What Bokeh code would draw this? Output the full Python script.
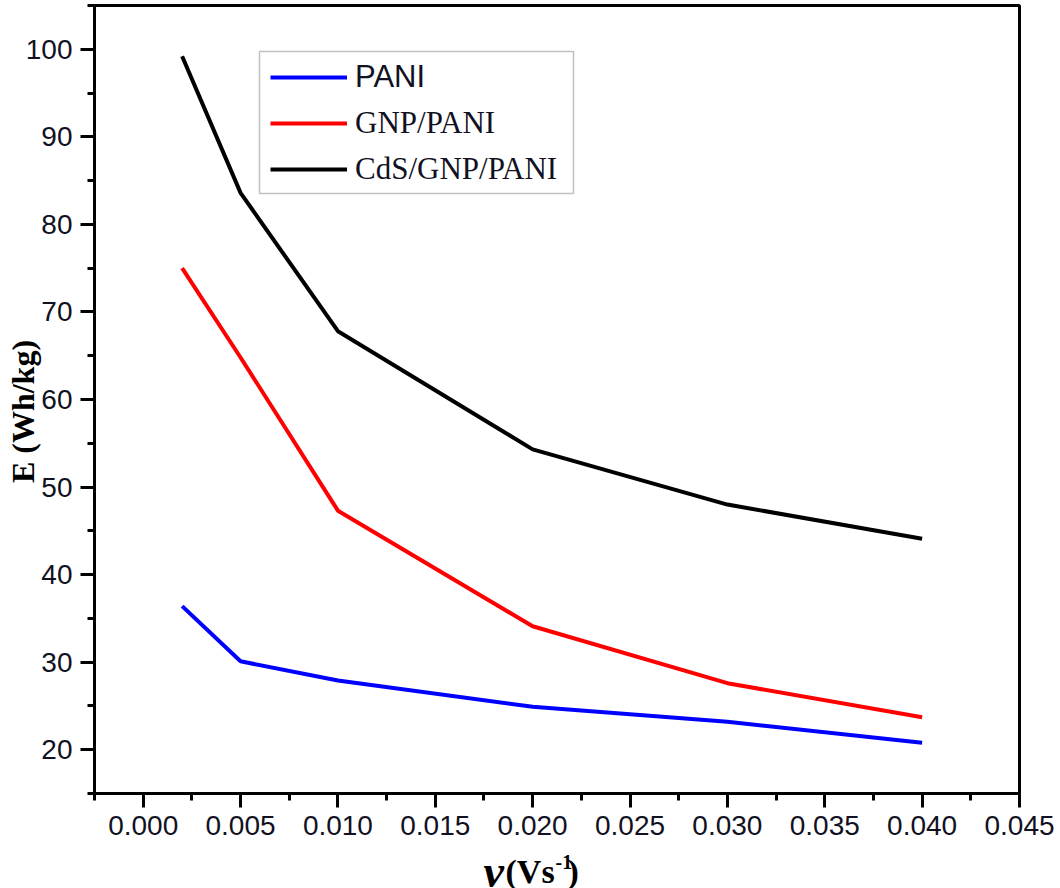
from bokeh.plotting import figure
from bokeh.layouts import column
from bokeh.models import (Range1d, FixedTicker, Legend, LegendItem, PrintfTickFormatter,
                          BoxAnnotation, ColumnDataSource)
from bokeh.core.properties import value
from bokeh.embed import file_html
from bokeh.resources import INLINE

# ---- data ----
scan_rate = [0.002, 0.005, 0.010, 0.020, 0.030, 0.040]
e_pani = [36.4, 30.1, 27.9, 24.9, 23.2, 20.8]
e_gnp_pani = [75.0, 64.8, 47.3, 34.1, 27.6, 23.7]
e_cds_gnp_pani = [99.2, 83.6, 67.8, 54.3, 48.0, 44.1]
series_names = ["PANI", "GNP/PANI", "CdS/GNP/PANI"]
series_colors = ["#0000ff", "#ff0000", "#000000"]

x_major = [0.000, 0.005, 0.010, 0.015, 0.020, 0.025, 0.030, 0.035, 0.040, 0.045]
x_minor = [-0.0025, 0.0025, 0.0075, 0.0125, 0.0175, 0.0225, 0.0275, 0.0325, 0.0375, 0.0425]
y_major = [20, 30, 40, 50, 60, 70, 80, 90, 100]
y_minor = [15, 25, 35, 45, 55, 65, 75, 85, 95, 105]

y_title = "E (Wh/kg)"
x_title_parts = ["ν", "(Vs", "-1", ")"]

# ---- layout ----
X0, X1 = -0.0025, 0.045
Y0, Y1 = 15, 105
W, H = 1060, 888
MAIN_H = 848
FL, FR, FT, FB = 94, 1019, 5, 793


def sx(px):
    return X0 + (px - FL) * (X1 - X0) / (FR - FL)


def sy(py):
    return Y0 + (FB - py) * (Y1 - Y0) / (FB - FT)


p = figure(width=W, height=MAIN_H, output_backend="svg", toolbar_location=None,
           x_range=Range1d(X0, X1), y_range=Range1d(Y0, Y1),
           min_border_left=FL, min_border_right=W - FR,
           min_border_top=FT, min_border_bottom=MAIN_H - FB)
p.background_fill_color = "white"
p.border_fill_color = "white"
p.outline_line_color = "black"
p.outline_line_width = 3
p.xgrid.visible = False
p.ygrid.visible = False

p.xaxis.ticker = FixedTicker(ticks=x_major, minor_ticks=x_minor)
p.yaxis.ticker = FixedTicker(ticks=y_major, minor_ticks=y_minor)
p.xaxis.formatter = PrintfTickFormatter(format="%.3f")
for ax in (p.xaxis[0], p.yaxis[0]):
    ax.axis_line_width = 3
    ax.axis_line_color = "black"
    ax.major_tick_line_width = 3
    ax.minor_tick_line_width = 3
    ax.major_tick_out = 14
    ax.major_tick_in = 0
    ax.minor_tick_out = 7
    ax.minor_tick_in = 0
    ax.major_label_text_font = "Liberation Sans"
    ax.major_label_text_font_size = "28px"
    ax.major_label_text_color = "#111122"
    ax.major_label_standoff = 8

# trailing no-break spaces nudge the rotated title a little lower, as in the reference
p.yaxis.axis_label = y_title + "\u00a0\u00a0\u00a0"
p.yaxis.axis_label_text_font = "Liberation Serif"
p.yaxis.axis_label_text_font_style = "bold"
p.yaxis.axis_label_text_font_size = "32px"
p.yaxis.axis_label_text_color = "black"
p.yaxis.axis_label_standoff = -18

renderers = []
for ys, c in zip([e_pani, e_gnp_pani, e_cds_gnp_pani], series_colors):
    r = p.line(scan_rate, ys, line_color=c, line_width=4)
    renderers.append(r)

# legend frame
p.add_layout(BoxAnnotation(left=sx(259), right=sx(573), top=sy(51), bottom=sy(193),
                           fill_color="white", fill_alpha=1.0,
                           line_color="#333333", line_width=1.5))


def make_legend(items, loc, font):
    lg = Legend(items=items, location=loc)
    lg.label_text_font = font
    lg.label_text_font_size = "31px"
    lg.label_text_color = "#111122"
    lg.border_line_alpha = 0
    lg.background_fill_alpha = 0
    lg.padding = 6
    lg.spacing = 8
    lg.label_height = 38
    lg.glyph_height = 38
    lg.glyph_width = 77
    lg.label_standoff = 8
    lg.margin = 0
    return lg


leg_a = make_legend([LegendItem(label=series_names[0], renderers=[renderers[0]])],
                    (170, 691), "Liberation Sans")
leg_b = make_legend([LegendItem(label=n, renderers=[r]) for n, r in zip(series_names[1:], renderers[1:])],
                    (170, 599), "Liberation Serif")
p.add_layout(leg_a)
p.add_layout(leg_b)

# ---- strip under the plot carrying the x-axis title ----
# (its frame is aligned with the main frame, so x is in page pixels over FL..FR)
SH = H - MAIN_H
s = figure(width=W, height=SH, output_backend="svg", toolbar_location=None,
           x_range=Range1d(FL, FR), y_range=Range1d(H, MAIN_H),
           x_axis_location=None, y_axis_location=None,
           min_border=0)
s.outline_line_color = None
s.background_fill_color = "white"
s.border_fill_color = "white"
s.grid.visible = False

Y_SHIFT = 6
src = ColumnDataSource(dict(
    x=[483, 505, 555, 567],
    y=[877 - Y_SHIFT, 877 - Y_SHIFT, 867 - Y_SHIFT, 877 - Y_SHIFT],
    text=x_title_parts,
    size=["46px", "34px", "20px", "34px"],
    style=["bold italic", "bold", "bold", "bold"],
))
s.text(x="x", y="y", text="text", source=src, text_font=value("Liberation Serif"),
       text_font_size="size", text_font_style="style", text_color="black",
       text_align="left", text_baseline="alphabetic")

layout = column(p, s, spacing=0)
open("out.html", "w").write(file_html(layout, INLINE))
